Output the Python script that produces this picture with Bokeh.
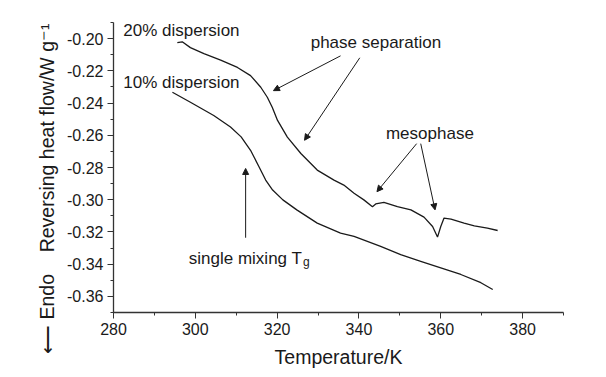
from bokeh.plotting import figure
from bokeh.models import (Label, Arrow, NormalHead, SingleIntervalTicker,
                          PrintfTickFormatter, Range1d, Title)
from bokeh.embed import file_html
from bokeh.resources import INLINE

# ---- data ----
temp_20 = [295.6, 296.8, 298.8, 302.1, 306.2, 310.3, 313.5, 316.0, 317.6, 318.8,
           320.1, 322.5, 325.8, 329.8, 333.9, 336.3, 338.8, 341.2, 343.3, 344.1,
           346.1, 349.4, 352.7, 355.9, 358.0, 359.2, 360.0, 360.8, 362.5, 365.7,
           368.2, 371.4, 373.9]
flow_20 = [-0.2025, -0.2020, -0.2056, -0.2093, -0.2133, -0.2179, -0.2230, -0.2302,
           -0.2364, -0.2426, -0.2508, -0.2611, -0.2713, -0.2816, -0.2878, -0.2909,
           -0.2960, -0.3001, -0.3043, -0.3026, -0.3016, -0.3043, -0.3063, -0.3108,
           -0.3166, -0.3232, -0.3166, -0.3114, -0.3121, -0.3145, -0.3162, -0.3176,
           -0.3191]

temp_10 = [294.4, 298.8, 304.5, 308.6, 311.2, 313.5, 315.5, 317.2, 318.9, 321.4,
           324.8, 329.8, 335.5, 338.8, 345.3, 350.2, 355.1, 360.0, 364.9, 369.8,
           372.7]
flow_10 = [-0.2333, -0.2395, -0.2477, -0.2549, -0.2610, -0.2693, -0.2792, -0.2878,
           -0.2940, -0.3001, -0.3063, -0.3145, -0.3207, -0.3228, -0.3290, -0.3341,
           -0.3382, -0.3423, -0.3464, -0.3515, -0.3557]

x_range = (280, 390)
y_range = (-0.37, -0.19)

x_title = "Temperature/K"
NB = "\u00a0"
y_title = "\u27f5" + NB + "Endo" + NB * 4 + "Reversing heat flow/W g\u207b\u00b9"

# annotation texts and their anchor points (data units)
texts = [
    ("20% dispersion", 282.4, -0.1952),
    ("10% dispersion", 282.4, -0.2273),
    ("phase separation", 328.2, -0.2027),
    ("mesophase", 346.6, -0.2586),
]
# arrows: (x_start, y_start, x_end, y_end)
arrows = [
    (335.5, -0.2107, 319.1, -0.2323),
    (340.2, -0.2119, 326.7, -0.2631),
    (354.1, -0.2652, 344.4, -0.2950),
    (355.1, -0.2652, 358.6, -0.3063),
    (312.3, -0.3236, 312.3, -0.2806),
]

FONT = "Liberation Sans"
INK = "#1a1a1a"

p = figure(width=606, height=377, output_backend="svg", toolbar_location=None,
           x_range=Range1d(*x_range), y_range=Range1d(*y_range),
           min_border_left=113, min_border_right=43, min_border_top=22,
           min_border_bottom=65)
p.outline_line_color = None
p.grid.visible = False
p.background_fill_color = "white"
p.border_fill_color = "white"

p.line(temp_20, flow_20, line_color=INK, line_width=1.3)
p.line(temp_10, flow_10, line_color=INK, line_width=1.3)

# axes
p.xaxis.ticker = SingleIntervalTicker(interval=20, num_minor_ticks=2)
p.yaxis.ticker = SingleIntervalTicker(interval=0.02, num_minor_ticks=2)
p.yaxis.formatter = PrintfTickFormatter(format="%.2f")
for ax in (p.xaxis, p.yaxis):
    ax.axis_line_color = "#333333"
    ax.axis_line_width = 1.3
    ax.major_tick_line_color = "#333333"
    ax.minor_tick_line_color = "#333333"
    ax.major_tick_out = 6
    ax.major_tick_in = 0
    ax.minor_tick_out = 3
    ax.minor_tick_in = 0
    ax.major_label_text_font = FONT
    ax.major_label_text_font_size = "16px"
    ax.major_label_text_color = INK
    ax.major_label_standoff = 4
    ax.axis_label_text_font = FONT
    ax.axis_label_text_font_size = "19.5px"
    ax.axis_label_text_font_style = "normal"
    ax.axis_label_text_color = INK
p.xaxis.axis_label = x_title
p.xaxis.axis_label_standoff = 8

ytitle = Title(text=y_title, align="right", offset=5, text_font=FONT,
               text_font_size="19.5px", text_font_style="normal",
               text_color=INK, standoff=13)
p.add_layout(ytitle, "left")

# annotations
for t, x, y in texts:
    p.add_layout(Label(x=x, y=y, text=t, text_font=FONT, text_font_size="17px",
                       text_color=INK, text_baseline="middle", text_align="left"))
p.add_layout(Label(x=298.4, y=-0.3367, text="single mixing T", text_font=FONT,
                   text_font_size="17px", text_color=INK, text_baseline="alphabetic"))
p.add_layout(Label(x=326.3, y=-0.3384, text="g", text_font=FONT,
                   text_font_size="12px", text_color=INK, text_baseline="alphabetic"))

for xs, ys, xe, ye in arrows:
    p.add_layout(Arrow(x_start=xs, y_start=ys, x_end=xe, y_end=ye,
                       line_color=INK, line_width=1,
                       end=NormalHead(size=6, fill_color=INK, line_color=INK)))

open("out.html", "w").write(file_html(p, INLINE))
